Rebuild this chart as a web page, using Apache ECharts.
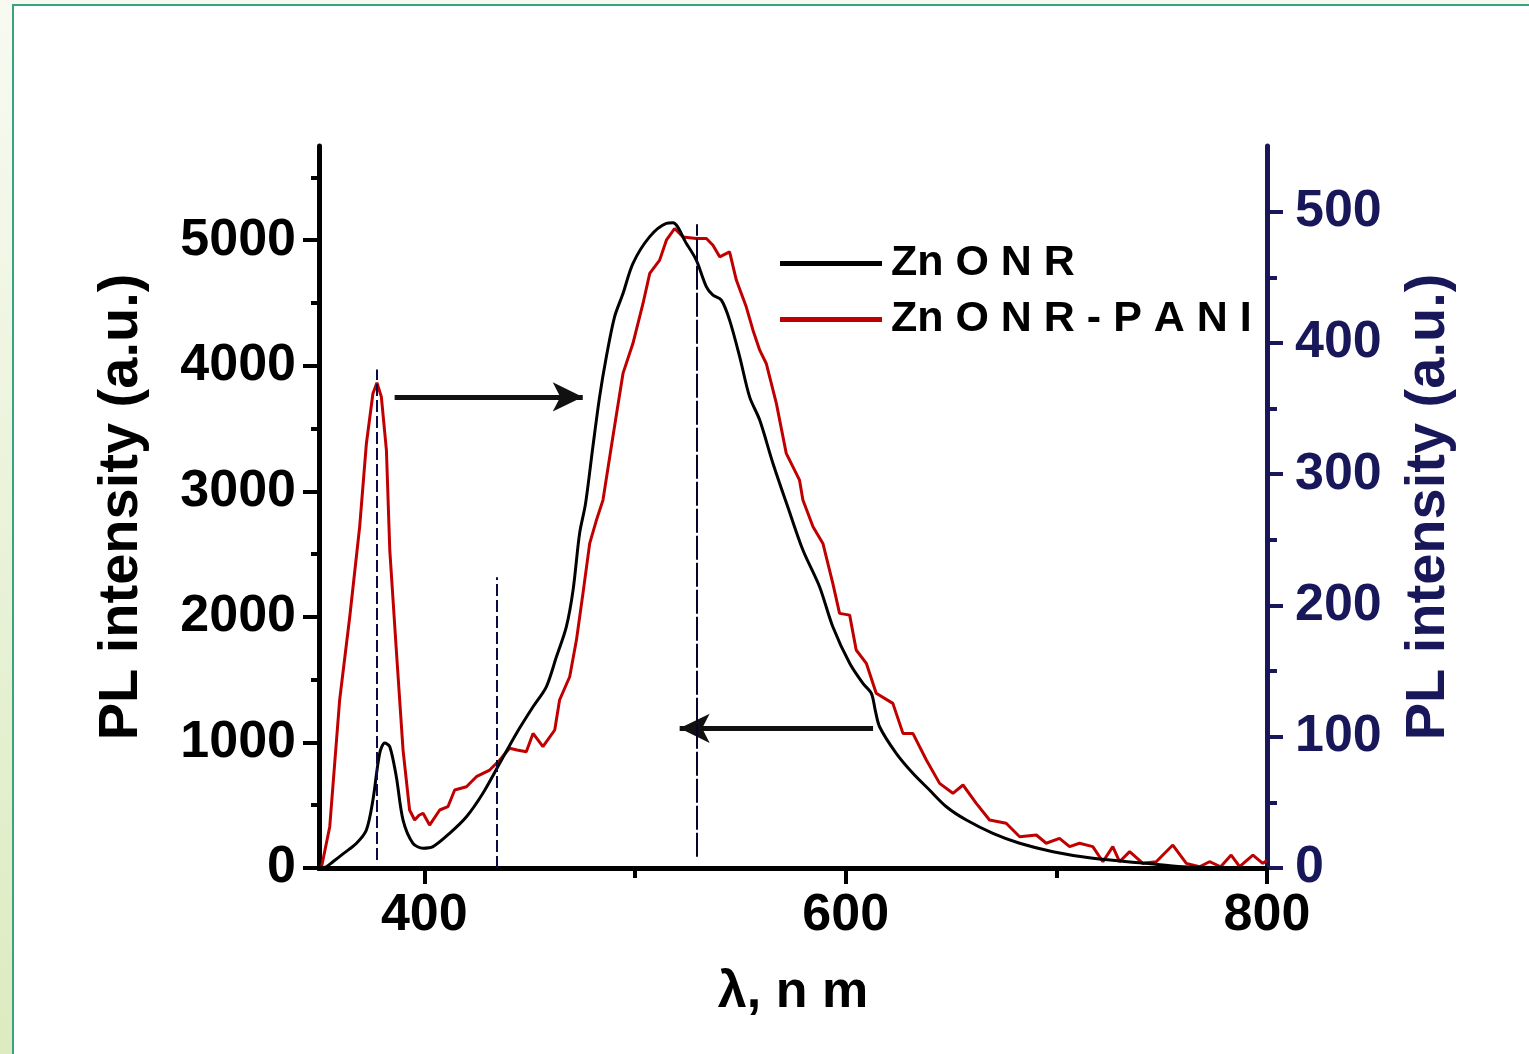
<!DOCTYPE html>
<html>
<head>
<meta charset="utf-8">
<script src="https://cdn.jsdelivr.net/npm/echarts@6/dist/echarts.min.js"></script>
<style>
html,body{margin:0;padding:0;background:#fff;}
#chart{width:1529px;height:1054px;}
</style>
</head>
<body>
<div id="chart"></div>
<script>
// ---- Data ----
const znoX = [351,353.5,356.6,362,367.8,372.5,375.6,378.8,381.2,383.6,386.7,389.9,394.6,399.4,404.1,412,420,427.8,435.8,443.7,451.6,457.9,462.7,467.4,470.6,473.7,476.5,480,483.2,486.4,490.3,494.3,499,506.9,514.9,518,524.4,529.1,533.9,537,541,544.9,549.7,554.4,559.2,565.5,572.5,579.7,587.6,593.9,601.9,608.2,612.2,614,616.1,624,631.9,639.8,647.8,657.3,669.9,682.6,698.4,717.4,742.7,760,780,800];
const znoY = [0,10,50,120,197,303,541,913,995,966,727,382,197,157,170,276,408,595,834,1072,1284,1443,1682,1921,2213,2665,2900,3354,3752,4071,4389,4575,4814,5026,5133,5138,4973,4841,4628,4562,4522,4363,4071,3752,3567,3222,2877,2532,2240,1921,1630,1470,1391,1260,1125,913,754,621,488,382,276,197,130,77,37,10,3,0];

const paniX = [351.3,355.1,359.8,364.6,369.3,372.5,375.6,377.5,379.6,382,383.6,386.7,389.9,393,395.4,397.5,399.4,402.5,407.3,411.2,414.4,420,424.7,431,435.8,440.5,444,448.4,451.6,456.3,461.9,464.2,469,472.2,475.3,478.5,481.7,484.8,489.5,494.3,499,503.8,507,511.7,514.9,518.8,522.8,529.1,533.9,537,540.2,544.9,548.1,552.8,556,559.2,562.3,567.1,571.8,578.1,579.7,584.5,589.2,593.9,597.1,601.9,605,609.8,614.5,622.4,627.2,631.9,638.3,644.6,650.9,655.7,662,668.3,676.2,682.6,690.5,695.2,701.5,706.3,711,717.3,722.1,726.8,730,734.8,741.1,747.4,755.3,761.7,768,772.7,778,783,787,793.3,798,800];
const paniY = [16,329,1338,2001,2717,3381,3779,3865,3752,3328,2532,1736,939,462,382,420,436,342,462,488,621,647,727,780,860,953,940,926,1072,966,1099,1338,1523,1815,2187,2585,2771,2930,3434,3939,4177,4496,4735,4841,5000,5093,5026,5013,5013,4960,4867,4907,4682,4469,4283,4124,4018,3700,3302,3089,2930,2717,2585,2267,2028,2014,1736,1630,1391,1311,1072,1072,860,674,595,661,515,382,356,249,263,197,236,170,197,170,50,170,50,130,37,50,183,37,10,50,10,103,10,103,37,60];

const seriesNames = ['Zn O N R', 'Zn O N R - P A N I'];

// Axis ticks / labels
const xMajor = [400, 600, 800];
const xMinor = [500, 700];
const yLeftMajor = [0, 1000, 2000, 3000, 4000, 5000];
const yLeftMinor = [500, 1500, 2500, 3500, 4500, 5500];
const yRightMajor = [0, 100, 200, 300, 400, 500];
const yRightMinor = [50, 150, 250, 350, 450];

// Annotations: arrows [x1,y1,x2(tip),y2] and guide lines [x,yBottom,yTop]
const arrowRight = [385.9, 3752, 475.2, 3752];
const arrowLeft = [613, 1112, 521.2, 1112];
const guideLines = [[377.6, 64, 3970], [434.3, 0, 2315], [529.1, 90, 5127]];

// ---- Chart ----
const FONT = "'Liberation Sans', Arial, sans-serif";
const NAVY = '#17175a';
const pairs = (xs, ys) => xs.map((x, i) => [x, ys[i]]);
const plain = v => String(v);

const X_MIN = 350, X_MAX = 800, YL_MAX = 5750, YR_MAX = 550;

function xAx(extra) {
  return Object.assign({
    type: 'value', min: X_MIN, max: X_MAX, splitLine: {show: false},
    axisLine: {show: false}, axisLabel: {show: false}, axisTick: {show: false}
  }, extra);
}
function yAx(extra, max) {
  return Object.assign({
    type: 'value', min: 0, max: max, splitLine: {show: false},
    axisLine: {show: false}, axisLabel: {show: false}, axisTick: {show: false}
  }, extra);
}

const chart = echarts.init(document.getElementById('chart'), null, {renderer: 'canvas'});
chart.setOption({
  animation: false,
  backgroundColor: '#ffffff',
  grid: {left: 319, top: 146, right: 262, bottom: 186, containLabel: false},
  graphic: [
    {type: 'rect', shape: {x: 0, y: 0, width: 1529, height: 4}, style: {fill: '#f8faf2'}, silent: true},
    {type: 'rect', shape: {x: 0, y: 0, width: 12, height: 1054}, silent: true,
      style: {fill: new echarts.graphic.LinearGradient(0, 0, 0, 1, [{offset: 0, color: '#f8faf2'}, {offset: 1, color: '#dcebc0'}])}},
    {type: 'line', shape: {x1: 13, y1: 5, x2: 13, y2: 1054}, style: {stroke: '#3aa37e', lineWidth: 2}, silent: true},
    {type: 'line', shape: {x1: 12, y1: 5, x2: 1529, y2: 5}, style: {stroke: '#3aa37e', lineWidth: 2}, silent: true}
  ],
  legend: {
    data: seriesNames.map(n => ({name: n, icon: 'rect'})), orient: 'vertical', left: 775, top: 237,
    itemWidth: 102, itemHeight: 5, itemGap: 13, selectedMode: false, padding: [5, 5, 5, 5],
    textStyle: {fontFamily: FONT, fontSize: 43, fontWeight: 'bold', color: '#000', padding: [0, 0, 0, 4]}
  },
  xAxis: [
    xAx({position: 'bottom',
      axisLine: {show: true, lineStyle: {color: '#000', width: 5}},
      axisTick: {show: true, customValues: xMajor, length: 16, lineStyle: {color: '#000', width: 4}},
      axisLabel: {show: true, customValues: xMajor, formatter: plain, margin: 22, fontFamily: FONT, fontSize: 52, fontWeight: 'bold', color: '#000'},
      name: 'λ, n m', nameLocation: 'middle', nameGap: 99,
      nameTextStyle: {fontFamily: FONT, fontSize: 52, fontWeight: 'bold', color: '#000'}}),
    xAx({position: 'bottom', axisTick: {show: true, customValues: xMinor, length: 10, lineStyle: {color: '#000', width: 4}}}),
    xAx({position: 'top',
      axisLine: {show: true, lineStyle: {color: '#000', width: 5}},
      axisTick: {show: true, inside: true, customValues: xMajor, length: 16, lineStyle: {color: '#000', width: 4}}}),
    xAx({position: 'top', axisTick: {show: true, inside: true, customValues: xMinor, length: 10, lineStyle: {color: '#000', width: 4}}})
  ],
  yAxis: [
    yAx({position: 'left',
      axisLine: {show: true, lineStyle: {color: '#000', width: 5}},
      axisTick: {show: true, customValues: yLeftMajor, length: 16, lineStyle: {color: '#000', width: 4}},
      axisLabel: {show: true, customValues: yLeftMajor, formatter: plain, margin: 23, fontFamily: FONT, fontSize: 52, fontWeight: 'bold', color: '#000'},
      name: 'PL intensity (a.u.)', nameLocation: 'middle', nameRotate: 90, nameGap: 169,
      nameTextStyle: {fontFamily: FONT, fontSize: 56, fontWeight: 'bold', color: '#000'}}, YL_MAX),
    yAx({position: 'left', axisTick: {show: true, customValues: yLeftMinor, length: 8, lineStyle: {color: '#000', width: 4}}}, YL_MAX),
    yAx({position: 'right',
      axisLine: {show: true, lineStyle: {color: NAVY, width: 5}},
      axisTick: {show: true, customValues: yRightMajor, length: 16, lineStyle: {color: NAVY, width: 4}},
      axisLabel: {show: true, customValues: yRightMajor, formatter: plain, margin: 28, fontFamily: FONT, fontSize: 52, fontWeight: 'bold', color: NAVY},
      name: 'PL intensity (a.u.)', nameLocation: 'middle', nameRotate: 90, nameGap: 134,
      nameTextStyle: {fontFamily: FONT, fontSize: 56, fontWeight: 'bold', color: NAVY}}, YR_MAX),
    yAx({position: 'right', axisTick: {show: true, customValues: yRightMinor, length: 10, lineStyle: {color: NAVY, width: 4}}}, YR_MAX)
  ],
  series: [
    {name: seriesNames[0], type: 'line', xAxisIndex: 0, yAxisIndex: 0, data: pairs(znoX, znoY),
      symbol: 'none', smooth: 0.3, lineStyle: {color: '#000', width: 3}, itemStyle: {color: '#000'}, z: 3},
    {name: seriesNames[1], type: 'line', xAxisIndex: 0, yAxisIndex: 0, data: pairs(paniX, paniY),
      symbol: 'none', smooth: false, lineStyle: {color: '#c00000', width: 3}, itemStyle: {color: '#c00000'}, z: 2},
    {name: 'annotations', type: 'line', xAxisIndex: 0, yAxisIndex: 0, data: [], symbol: 'none', z: 4,
      markLine: {
        silent: true, animation: false, label: {show: false},
        data: [
          [{coord: [arrowRight[0], arrowRight[1]], symbol: 'none', lineStyle: {color: '#111', width: 5, type: 'solid'}},
           {coord: [arrowRight[2], arrowRight[3]], symbol: 'arrow', symbolSize: [22, 30]}],
          [{coord: [arrowLeft[0], arrowLeft[1]], symbol: 'none', lineStyle: {color: '#111', width: 5, type: 'solid'}},
           {coord: [arrowLeft[2], arrowLeft[3]], symbol: 'arrow', symbolSize: [22, 30]}]
        ].concat(guideLines.map((g, i) => [
          {coord: [g[0], g[1]], symbol: 'none', lineStyle: {color: i === 2 ? '#05052a' : '#0a0a48', width: 2, type: i === 2 ? [24, 3] : [12, 4]}},
          {coord: [g[0], g[2]], symbol: 'none'}
        ]))
      }}
  ]
});
</script>
</body>
</html>
